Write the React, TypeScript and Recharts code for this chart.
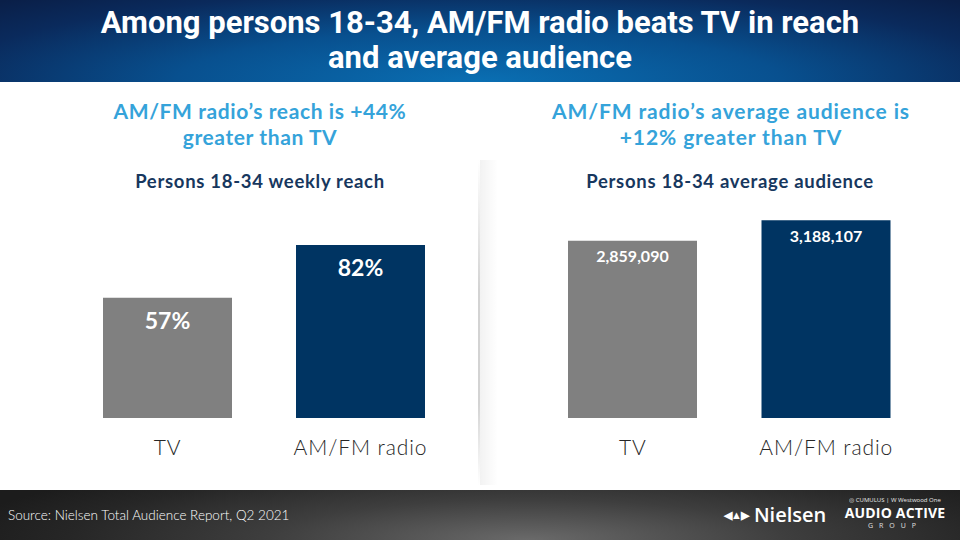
import React from "react";
import { BarChart, Bar, XAxis, YAxis, Cell, LabelList } from "recharts";

const categories = ["TV", "AM/FM radio"];
const reachValues = [57, 82];
const reachLabels = ["57%", "82%"];
const audienceValues = [2859090, 3188107];
const audienceLabels = ["2,859,090", "3,188,107"];
const barColors = ["#808080", "#003462"];

const titleLines = ["Among persons 18-34, AM/FM radio beats TV in reach", "and average audience"];
const leftHeadline = ["AM/FM radio\u2019s reach is +44%", "greater than TV"];
const rightHeadline = ["AM/FM radio\u2019s average audience is", "+12% greater than TV"];
const leftSubtitle = "Persons 18-34 weekly reach";
const rightSubtitle = "Persons 18-34 average audience";
const sourceText = "Source: Nielsen Total Audience Report, Q2 2021";

const reachData = categories.map((c, i) => ({ name: c, value: reachValues[i], label: reachLabels[i] }));
const audienceData = categories.map((c, i) => ({ name: c, value: audienceValues[i], label: audienceLabels[i] }));

const bodyFont = "Lato, 'Noto Sans', sans-serif";

const abs = (s: React.CSSProperties): React.CSSProperties => ({ position: "absolute", ...s });

function Headline({ lines, cx, spacing }: { lines: string[]; cx: number; spacing: number }) {
  return (
    <div style={abs({ left: cx - 240, width: 480, top: 98, textAlign: "center", color: "#35a3da", fontFamily: bodyFont, fontWeight: 700, fontSize: 21, lineHeight: "26px", letterSpacing: spacing })}>
      {lines.map((l, i) => (
        <div key={i}>{l}</div>
      ))}
    </div>
  );
}

function Sub({ text, cx }: { text: string; cx: number }) {
  return (
    <div style={abs({ left: cx - 240, width: 480, top: 170, textAlign: "center", color: "#17375e", fontFamily: bodyFont, fontWeight: 700, fontSize: 18.5, lineHeight: "23px", letterSpacing: 0.7 })}>
      {text}
    </div>
  );
}

const tickStyle = { fontSize: 21, fill: "#262626", fontFamily: bodyFont, fontWeight: 300, letterSpacing: 0.9 };

export default function App() {
  return (
    <div style={abs({ left: 0, top: 0, width: 960, height: 540, background: "#ffffff", overflow: "hidden" })}>
      {/* header */}
      <div style={abs({ left: 0, top: 0, width: 960, height: 82, background: "radial-gradient(ellipse 70% 140% at 50% 100%, #0a6fb3 0%, #08508f 45%, #0a2a5c 80%, #0a1f48 100%)" })} />
      <div style={abs({ left: 0, top: 5, width: 960, textAlign: "center", color: "#ffffff", fontFamily: "'Roboto', sans-serif", fontWeight: 700, fontSize: 31, lineHeight: "35px" })}>
        {titleLines.map((l, i) => (
          <div key={i}>{l}</div>
        ))}
      </div>

      <Headline lines={leftHeadline} cx={260} spacing={0.6} />
      <Headline lines={rightHeadline} cx={731} spacing={0.9} />
      <Sub text={leftSubtitle} cx={260} />
      <Sub text={rightSubtitle} cx={730} />

      {/* divider */}
      <div style={abs({ left: 478, top: 160, width: 2, height: 325, background: "linear-gradient(to bottom, rgba(210,210,210,0) 0%, rgba(200,200,200,0.8) 40%, rgba(200,200,200,0.8) 75%, rgba(210,210,210,0) 100%)" })} />
      <div style={abs({ left: 480, top: 160, width: 18, height: 325, background: "linear-gradient(to right, rgba(0,0,0,0.05), rgba(0,0,0,0))" })} />

      {/* left chart */}
      <div style={abs({ left: 0, top: 0 })}>
        <BarChart width={480} height={480} data={reachData} margin={{ top: 207, right: 23, left: 71, bottom: 22 }} barSize={129}>
          <XAxis dataKey="name" axisLine={false} tickLine={false} height={40} tickMargin={16} interval={0} tick={tickStyle} />
          <YAxis hide domain={[0, 100]} />
          <Bar dataKey="value" isAnimationActive={false}>
            {reachData.map((d, i) => (
              <Cell key={i} fill={barColors[i]} />
            ))}
            <LabelList dataKey="label" position="insideTop" offset={15} fill="#ffffff" fontSize={23} fontWeight={700} fontFamily={bodyFont} />
          </Bar>
        </BarChart>
      </div>

      {/* right chart */}
      <div style={abs({ left: 0, top: 0 })}>
        <BarChart width={960} height={480} data={audienceData} margin={{ top: 201, right: 37, left: 536, bottom: 22 }} barSize={129}>
          <XAxis dataKey="name" axisLine={false} tickLine={false} height={40} tickMargin={16} interval={0} tick={tickStyle} />
          <YAxis hide domain={[0, 3500000]} />
          <Bar dataKey="value" isAnimationActive={false}>
            {audienceData.map((d, i) => (
              <Cell key={i} fill={barColors[i]} />
            ))}
            <LabelList dataKey="label" position="insideTop" offset={10} fill="#ffffff" fontSize={16} fontWeight={700} fontFamily={bodyFont} />
          </Bar>
        </BarChart>
      </div>

      {/* footer */}
      <div style={abs({ left: 0, top: 490, width: 960, height: 50, background: "radial-gradient(ellipse 60% 180% at 55% 100%, #6a6a6a 0%, #3e3e3e 45%, #262626 80%, #1c1c1c 100%)" })} />
      <div style={abs({ left: 8, top: 506, color: "#ffffff", fontFamily: bodyFont, fontWeight: 300, fontSize: 13.5, lineHeight: "18px" })}>{sourceText}</div>
      <div style={abs({ left: 724, top: 502, color: "#ffffff", fontFamily: "'Open Sans', sans-serif", fontWeight: 600, fontSize: 20, lineHeight: "26px", display: "flex", alignItems: "center" })}>
        <span style={{ fontSize: 11, marginRight: 6, letterSpacing: -1 }}>{"\u25C0\u25B2\u25B6"}</span>
        <span>Nielsen</span>
      </div>
      <div style={abs({ left: 843, top: 496, width: 104, textAlign: "center", color: "#ffffff", fontFamily: "'Open Sans', sans-serif" })}>
        <div style={{ fontSize: 6, lineHeight: "9px", opacity: 0.9 }}>{"\u25CE CUMULUS | W Westwood One"}</div>
        <div style={{ fontSize: 14, fontWeight: 700, lineHeight: "16px", letterSpacing: 0.2 }}>AUDIO ACTIVE</div>
        <div style={{ fontSize: 7, lineHeight: "10px", letterSpacing: 6, opacity: 0.85 }}>GROUP</div>
      </div>
    </div>
  );
}
